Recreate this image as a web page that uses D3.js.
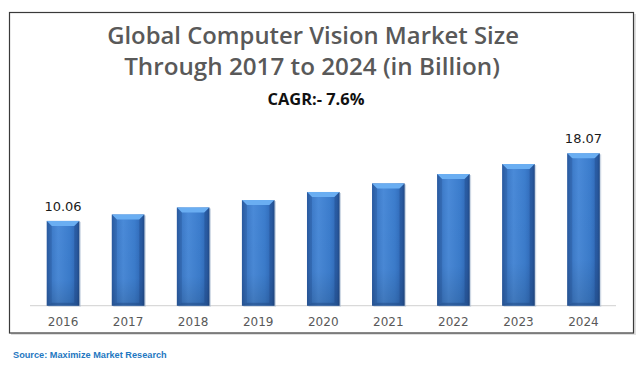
<!DOCTYPE html>
<html><head><meta charset="utf-8">
<script src="https://cdn.jsdelivr.net/npm/d3@7"></script>
<style>html,body{margin:0;padding:0;background:#fff;}svg{display:block;}</style>
</head><body>
<script>
const years = ["2016","2017","2018","2019","2020","2021","2022","2023","2024"];
const values = [10.06, 10.82, 11.65, 12.53, 13.49, 14.51, 15.61, 16.80, 18.07];
const labeledYears = ["2016","2024"];
const titleLines = ["Global Computer Vision Market Size", "Through 2017 to 2024 (in Billion)"];
const subtitle = "CAGR:- 7.6%";
const sourceText = "Source: Maximize Market Research";

const W = 644, H = 368;
const svg = d3.select("body").append("svg").attr("width", W).attr("height", H);
const defs = svg.append("defs");

const hg = defs.append("linearGradient").attr("id","barH").attr("x1","0").attr("x2","1").attr("y1","0").attr("y2","0");
[["0%","#2c5fa8"],["12%","#3b78c6"],["35%","#4a8ad8"],["70%","#3c7dcd"],["92%","#2f68b6"],["100%","#24508f"]]
  .forEach(([o,c])=>hg.append("stop").attr("offset",o).attr("stop-color",c));
const vg = defs.append("linearGradient").attr("id","barV").attr("x1","0").attr("x2","0").attr("y1","0").attr("y2","1");
[["0%","#000",0],["70%","#000",0.02],["100%","#000",0.14]]
  .forEach(([o,c,a])=>vg.append("stop").attr("offset",o).attr("stop-color",c).attr("stop-opacity",a));

// frame
svg.append("rect").attr("x",11).attr("y",14).attr("width",625).attr("height",321).attr("fill","#bfbfbf").attr("opacity",0.5);
svg.append("rect").attr("x",9.5).attr("y",12.5).attr("width",624).attr("height",320.5)
  .attr("fill","#fff").attr("stroke","#3a3a3a").attr("stroke-width",1.2);

const x = d3.scaleBand().domain(years).range([30.5, 616]).paddingInner(0.5).paddingOuter(0.25);
const y = d3.scaleLinear().domain([0, 20]).range([305.7, 305.7 - 20*8.43]);

// baseline
svg.append("line").attr("x1",30).attr("x2",616).attr("y1",y(0)).attr("y2",y(0))
  .attr("stroke","#d9d9d9").attr("stroke-width",1.2);

const g = svg.append("g");
const data = years.map((k,i)=>({k, v: values[i]}));
const bars = g.selectAll("g.bar").data(data).join("g").attr("class","bar");
bars.append("rect").attr("x",d=>x(d.k)+1.5).attr("y",d=>y(d.v)+1).attr("width",x.bandwidth()).attr("height",d=>y(0)-y(d.v))
  .attr("fill","#9fb3cc").attr("opacity",0.5);
bars.append("rect").attr("x",d=>x(d.k)).attr("y",d=>y(d.v)).attr("width",x.bandwidth()).attr("height",d=>y(0)-y(d.v))
  .attr("fill","url(#barH)");
bars.append("rect").attr("x",d=>x(d.k)).attr("y",d=>y(d.v)).attr("width",x.bandwidth()).attr("height",d=>y(0)-y(d.v))
  .attr("fill","url(#barV)");
// top bevel
bars.append("path").attr("d",d=>{
  const x0=x(d.k), x1=x0+x.bandwidth(), t=y(d.v), b=5;
  return `M${x0},${t}L${x1},${t}L${x1-b},${t+b}L${x0+b},${t+b}Z`;
}).attr("fill","#6aaef2");
bars.append("path").attr("d",d=>{
  const x0=x(d.k), t=y(d.v), b=5;
  return `M${x0},${t}L${x0+b},${t+b}L${x0+b},${y(0)-3}L${x0},${y(0)}Z`;
}).attr("fill","#244f90").attr("opacity",0.35);
bars.append("path").attr("d",d=>{
  const x1=x(d.k)+x.bandwidth(), t=y(d.v), b=5;
  return `M${x1},${t}L${x1-b},${t+b}L${x1-b},${y(0)-3}L${x1},${y(0)}Z`;
}).attr("fill","#1c4077").attr("opacity",0.35);
bars.append("path").attr("d",d=>{
  const x0=x(d.k), x1=x0+x.bandwidth(), bt=y(0), b=3;
  return `M${x0},${bt}L${x0+5},${bt-b}L${x1-5},${bt-b}L${x1},${bt}Z`;
}).attr("fill","#1f4a86").attr("opacity",0.5);

// value labels
g.selectAll("text.val").data(data.filter(d=>labeledYears.includes(d.k)))
  .join("text").attr("class","val")
  .attr("x",d=>x(d.k)+x.bandwidth()/2).attr("y",d=>y(d.v)-10)
  .attr("text-anchor","middle").attr("font-family","DejaVu Sans").attr("font-size",13).attr("fill","#1a1a1a")
  .text(d=>d.v.toFixed(2));

// x axis
const xAxis = svg.append("g").attr("transform",`translate(0,${y(0)})`).call(d3.axisBottom(x).tickSize(0).tickPadding(12));
xAxis.select(".domain").remove();
xAxis.selectAll("text").attr("font-family","DejaVu Sans").attr("font-size",12).attr("fill","#595959");

// titles
function fit(sel, target){ const w = sel.node().getComputedTextLength(); const fs = +sel.attr("font-size"); sel.attr("font-size", fs*target/w); }
const t1 = svg.append("text").attr("x",313).attr("y",44).attr("text-anchor","middle")
  .attr("font-family","Open Sans").attr("font-weight",600).attr("font-size",24).attr("fill","#595959").text(titleLines[0]);
fit(t1, 412);
const t2 = svg.append("text").attr("x",312).attr("y",75).attr("text-anchor","middle")
  .attr("font-family","Open Sans").attr("font-weight",600).attr("font-size",24).attr("fill","#595959").text(titleLines[1]);
fit(t2, 376);
const t3 = svg.append("text").attr("x",316).attr("y",105).attr("text-anchor","middle")
  .attr("font-family","Open Sans").attr("font-weight",700).attr("font-size",14).attr("fill","#111").text(subtitle);
fit(t3, 97);
const t4 = svg.append("text").attr("x",13).attr("y",358).attr("text-anchor","start")
  .attr("font-family","Liberation Sans").attr("font-weight",700).attr("font-size",10).attr("fill","#1f78c1").text(sourceText);
fit(t4, 154);
</script>
</body></html>
